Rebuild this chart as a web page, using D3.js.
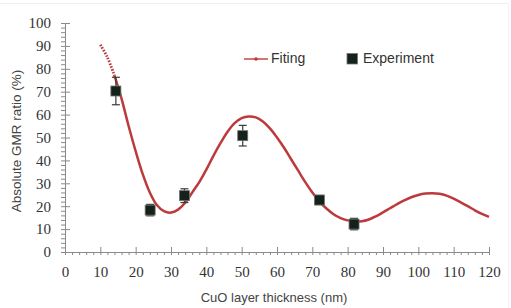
<!DOCTYPE html>
<html>
<head>
<meta charset="utf-8">
<script src="https://cdn.jsdelivr.net/npm/d3@7"></script>
<style>
  body { margin: 0; background: #fff; }
  svg { display: block; }
</style>
</head>
<body>
<svg id="chart" width="511" height="308"></svg>
<script>
// fitted curve
const fitX = [10, 12, 14, 16, 18, 20, 22, 24, 26, 28, 30, 32, 34, 36, 38, 40, 42, 44, 46, 48, 50,
  52, 54, 56, 58, 60, 62, 64, 66, 68, 70, 72, 74, 76, 78, 80, 82, 84, 86, 88, 90,
  92, 94, 96, 98, 100, 102, 104, 106, 108, 110, 112, 114, 116, 118, 120];
const fitY = [90.5, 85, 77, 67, 55, 44, 34, 26, 20.5, 17.8, 17.2, 18.5, 21.5, 26, 30.5, 36, 42, 47.5, 52.5, 56.3, 58.5,
  59.2, 58.8, 57, 54, 50, 45.5, 40.5, 35.5, 30.5, 26, 22, 19, 16.5, 14.8, 13.8, 13.3, 13.4, 14.2, 15.6, 17.3,
  19.1, 20.9, 22.5, 23.9, 24.9, 25.5, 25.7, 25.4, 24.6, 23.3, 21.7, 20, 18.2, 16.6, 15.3];

// experiment points with error bars
const expX = [14.4, 24.1, 33.8, 50.3, 72, 81.8];
const expY = [70.3, 18.3, 24.6, 50.8, 22.7, 12.2];
const expErr = [6, 2.5, 3, 4.5, 2, 2.5];

const xTicks = [0, 10, 20, 30, 40, 50, 60, 70, 80, 90, 100, 110, 120];
const yTicks = [0, 10, 20, 30, 40, 50, 60, 70, 80, 90, 100];
const seriesNames = ["Fiting", "Experiment"];

function createChart() {
  const svg = d3.select("#chart");
  const margin = { top: 23, right: 22, bottom: 56, left: 65 };
  const width = +svg.attr("width") - margin.left - margin.right;
  const height = +svg.attr("height") - margin.top - margin.bottom;
  const red = "#bd3a3c";

  // faint frame of the original image
  svg.append("line").attr("x1", 0).attr("x2", 508).attr("y1", 3.5).attr("y2", 3.5)
    .attr("stroke", "#eeeeee");
  svg.append("line").attr("x1", 508.5).attr("x2", 508.5).attr("y1", 3).attr("y2", 308)
    .attr("stroke", "#f2f2f2");

  const x = d3.scaleLinear().domain([0, 120]).range([margin.left, margin.left + width]);
  const y = d3.scaleLinear().domain([0, 100]).range([margin.top + height, margin.top]);

  const axisColor = "#8a8a8a";
  const tickFont = "'Liberation Serif', 'Times New Roman', serif";

  // x axis: minor ticks every 2 nm
  const xMinor = d3.range(0, 121, 2).filter((v) => v % 10 !== 0);
  svg.append("g")
    .attr("transform", `translate(0, ${margin.top + height})`)
    .call(d3.axisBottom(x).tickValues(xMinor).tickSize(3).tickFormat(""))
    .call((g) => g.select(".domain").remove())
    .selectAll("line").attr("stroke", axisColor);

  const gx = svg.append("g")
    .attr("transform", `translate(0, ${margin.top + height})`)
    .call(d3.axisBottom(x).tickValues(xTicks).tickSizeInner(-5).tickSizeOuter(0).tickPadding(14));
  gx.select(".domain").attr("stroke", axisColor);
  gx.selectAll(".tick line").attr("stroke", axisColor).attr("y1", 3);
  gx.selectAll("text").style("font-family", tickFont).style("font-size", "15px").attr("fill", "#333");

  // y axis: minor ticks every 2 %
  const yMinor = d3.range(0, 101, 2).filter((v) => v % 10 !== 0);
  svg.append("g")
    .attr("transform", `translate(${margin.left}, 0)`)
    .call(d3.axisLeft(y).tickValues(yMinor).tickSize(4).tickFormat(""))
    .call((g) => g.select(".domain").remove())
    .selectAll("line").attr("stroke", axisColor);

  const gy = svg.append("g")
    .attr("transform", `translate(${margin.left}, 0)`)
    .call(d3.axisLeft(y).tickValues(yTicks).tickSizeInner(4).tickSizeOuter(0).tickPadding(10));
  gy.select(".domain").attr("stroke", axisColor);
  gy.selectAll(".tick line").attr("stroke", axisColor).attr("x1", 5);
  gy.selectAll("text").style("font-family", tickFont).style("font-size", "15px").attr("fill", "#333");

  // axis titles
  svg.append("text")
    .attr("x", 274).attr("y", 302)
    .attr("text-anchor", "middle")
    .attr("font-family", "'Liberation Sans', Arial, sans-serif")
    .attr("font-size", 13).attr("fill", "#444")
    .text("CuO layer thickness (nm)");

  svg.append("text")
    .attr("transform", "translate(21, 141) rotate(-90)")
    .attr("text-anchor", "middle")
    .attr("font-family", "'Liberation Sans', Arial, sans-serif")
    .attr("font-size", 13.5).attr("fill", "#444")
    .text("Absolute GMR ratio (%)");

  // fitted curve
  const fit = fitX.map((v, i) => ({ x: v, y: fitY[i] }));
  const line = d3.line().x((d) => x(d.x)).y((d) => y(d.y)).curve(d3.curveCatmullRom);

  svg.append("path")
    .datum(fit.filter((d) => d.x >= 14))
    .attr("fill", "none").attr("stroke", red).attr("stroke-width", 2.5)
    .attr("d", line);

  // start of the fit is drawn as dense markers
  svg.append("path")
    .datum(fit.filter((d) => d.x <= 14))
    .attr("fill", "none").attr("stroke", red).attr("stroke-width", 2.8)
    .attr("stroke-dasharray", "1.6,1.4")
    .attr("d", line);

  // experiment error bars
  const exp = expX.map((v, i) => ({ x: v, y: expY[i], e: expErr[i] }));
  const bars = svg.selectAll(".err").data(exp).enter().append("g").attr("class", "err")
    .attr("stroke", "#3a3a3a").attr("stroke-width", 1.2);
  bars.append("line")
    .attr("x1", (d) => x(d.x)).attr("x2", (d) => x(d.x))
    .attr("y1", (d) => y(d.y + d.e)).attr("y2", (d) => y(d.y - d.e));
  bars.append("line")
    .attr("x1", (d) => x(d.x) - 4).attr("x2", (d) => x(d.x) + 4)
    .attr("y1", (d) => y(d.y + d.e)).attr("y2", (d) => y(d.y + d.e));
  bars.append("line")
    .attr("x1", (d) => x(d.x) - 4).attr("x2", (d) => x(d.x) + 4)
    .attr("y1", (d) => y(d.y - d.e)).attr("y2", (d) => y(d.y - d.e));

  const sq = 10;
  svg.selectAll(".pt").data(exp).enter().append("rect").attr("class", "pt")
    .attr("x", (d) => x(d.x) - sq / 2).attr("y", (d) => y(d.y) - sq / 2)
    .attr("width", sq).attr("height", sq)
    .attr("fill", "#15211b").attr("stroke", "#6f7570").attr("stroke-width", 0.8);

  // legend
  const legFont = "'Liberation Sans', Arial, sans-serif";
  svg.append("line").attr("x1", 244).attr("x2", 268).attr("y1", 59).attr("y2", 59)
    .attr("stroke", red).attr("stroke-width", 1.4);
  svg.append("circle").attr("cx", 256).attr("cy", 59).attr("r", 1.8).attr("fill", red);
  svg.append("text").attr("x", 271).attr("y", 63)
    .attr("font-family", legFont).attr("font-size", 14).attr("fill", "#333")
    .text(seriesNames[0]);

  svg.append("rect").attr("x", 347).attr("y", 53.5).attr("width", 10.5).attr("height", 10.5)
    .attr("fill", "#15211b").attr("stroke", "#6f7570").attr("stroke-width", 0.8);
  svg.append("text").attr("x", 363).attr("y", 63)
    .attr("font-family", legFont).attr("font-size", 14).attr("fill", "#333")
    .text(seriesNames[1]);
}

createChart();
</script>
</body>
</html>
